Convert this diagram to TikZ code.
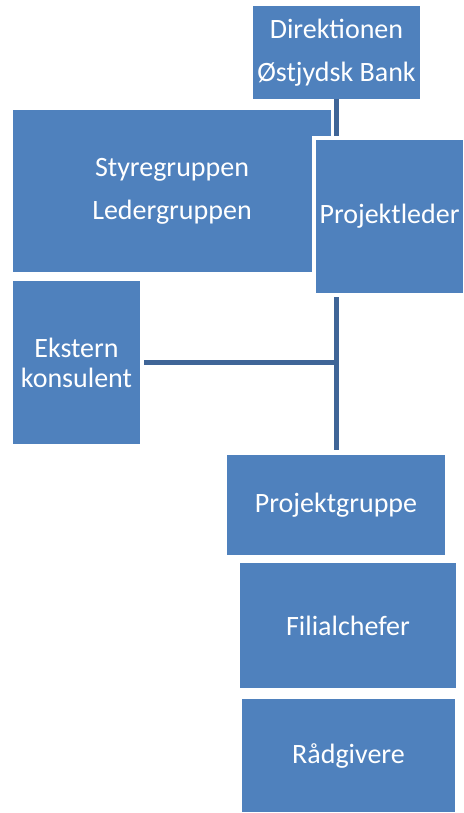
\documentclass[tikz,border=0pt]{standalone}
\usepackage{fontspec}
\setmainfont{Carlito}
\usepackage{xcolor}
\usetikzlibrary{positioning,calc}
\definecolor{boxblue}{HTML}{4F81BD}
\definecolor{lineblue}{HTML}{3F6597}

\begin{document}
\begin{tikzpicture}[x=1pt,y=-1pt,
  orgbox/.style={rectangle,fill=boxblue,text=white,inner sep=0pt,align=center,
    font=\fontsize{28}{43}\selectfont},
  conn/.style={draw=lineblue,line width=5pt}]
\useasboundingbox (0,0) rectangle (463,813);
% boxes
\node[orgbox,minimum width=167pt,minimum height=93pt] (dir) at (336.5,52.5)
  {Direktionen\\Østjydsk Bank};
% trunk and side line
\coordinate (trunktop) at (dir.south);
\node[orgbox,minimum width=318pt,minimum height=162pt] (styr) at (172,191)
  {Styregruppen\\Ledergruppen};
\node[orgbox,minimum width=127pt,minimum height=163pt,
  font=\fontsize{28}{30}\selectfont] (ek) at (76.5,362.5) {Ekstern\\konsulent};
\node[orgbox,minimum width=218pt,minimum height=100pt] (pg) at (336,505) {Projektgruppe};
\draw[conn,shorten >=5pt] (trunktop) -- (trunktop |- pg.north);
\draw[conn,shorten <=4pt] (ek.east) -- (ek.east -| trunktop);
\node[orgbox,draw=white,line width=4pt,minimum width=151pt,minimum height=157pt]
  (pl) at (389.5,216.5) {Projektleder};
\node[orgbox,minimum width=216pt,minimum height=125pt] (fc) at (348,625.5) {Filialchefer};
\node[orgbox,minimum width=213pt,minimum height=113pt] (rg) at (348.5,755.5) {Rådgivere};
\end{tikzpicture}
\end{document}
